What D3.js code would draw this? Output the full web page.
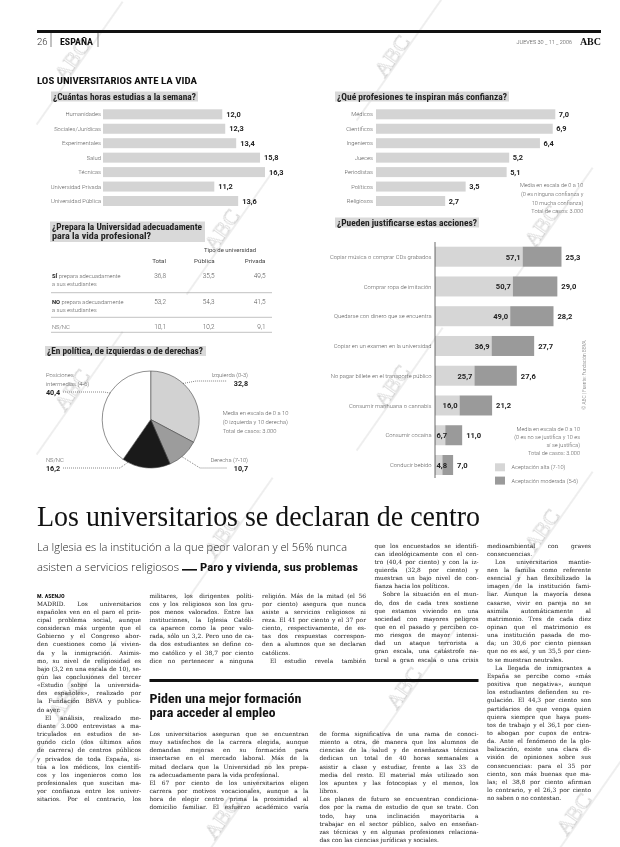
<!DOCTYPE html>
<html><head><meta charset="utf-8">
<script src="https://cdn.jsdelivr.net/npm/d3@7"></script>
<style>body{margin:0;background:#fff}svg{display:block}</style>
</head><body><svg id="c" width="620" height="847"></svg>
<script>
// ---------- DATA ----------
const horasCats = ["Humanidades","Sociales/Jurídicas","Experimentales","Salud","Técnicas","Universidad Privada","Universidad Pública"];
const horasVals = [12.0,12.3,13.4,15.8,16.3,11.2,13.6];
const confCats = ["Médicos","Científicos","Ingenieros","Jueces","Periodistas","Políticos","Religiosos"];
const confVals = [7.0,6.9,6.4,5.2,5.1,3.5,2.7];
const tablaCols = ["Total","Pública","Privada"];
const tablaRows = [["SÍ"," prepara adecuadamente","a sus estudiantes"],["NO"," prepara adecuadamente","a sus estudiantes"],["","NS/NC",""]];
const tablaVals = [[36.8,35.5,49.5],[53.2,54.3,41.5],[10.1,10.2,9.1]];
const pieCats = ["Izquierda (0-3)","Derecha (7-10)","NS/NC","Posiciones intermedias (4-6)"];
const pieVals = [32.8,10.7,16.2,40.4];
const justCats = ["Copiar música o comprar CDs grabados","Comprar ropa de imitación","Quedarse con dinero que se encuentra","Copiar en un examen en la universidad","No pagar billete en el transporte público","Consumir marihuana o cannabis","Consumir cocaína","Conducir bebido"];
const justAlta = [57.1,50.7,49.0,36.9,25.7,16.0,6.7,4.8];
const justModerada = [25.3,29.0,28.2,27.7,27.6,21.2,11.0,7.0];
const justSeries = ["Aceptación alta (7-10)","Aceptación moderada (5-6)"];

// ---------- TEXTS ----------
const col1 = [["M. ASENJO","byline"],["MADRID. Los universitarios"],["españoles ven en el paro el prin-"],["cipal problema social, aunque"],["consideran más urgente que el"],["Gobierno y el Congreso abor-"],["den cuestiones como la vivien-"],["da y la inmigración. Asimis-"],["mo, su nivel de religiosidad es"],["bajo (3,2 en una escala de 10), se-"],["gún las conclusiones del tercer"],["«Estudio sobre la universida-"],["des españoles», realizado por"],["la Fundación BBVA y publica-"],["do ayer.","last"],["El análisis, realizado me-","ind"],["diante 3.000 entrevistas a ma-"],["triculados en estudios de se-"],["gundo ciclo (dos últimos años"],["de carrera) de centros públicos"],["y privados de toda España, si-"],["túa a los médicos, los científi-"],["cos y los ingenieros como los"],["profesionales que suscitan ma-"],["yor confianza entre los univer-"],["sitarios. Por el contrario, los"]];
const col2 = [["militares, los dirigentes políti-"],["cos y los religiosos son los gru-"],["pos menos valorados. Entre las"],["instituciones, la Iglesia Católi-"],["ca aparece como la peor valo-"],["rada, sólo un 3,2. Pero uno de ca-"],["da dos estudiantes se define co-"],["mo católico y el 38,7 por ciento"],["dice no pertenecer a ninguna"]];
const col3 = [["religión. Más de la mitad (el 56"],["por ciento) asegura que nunca"],["asiste a servicios religiosos ni"],["reza. El 41 por ciento y el 37 por"],["ciento, respectivamente, de es-"],["tas dos respuestas correspon-"],["den a alumnos que se declaran"],["católicos.","last"],["El estudio revela también","ind"]];
const col4 = [["que los encuestados se identifi-"],["can ideológicamente con el cen-"],["tro (40,4 por ciento) y con la iz-"],["quierda (32,8 por ciento) y"],["muestran un bajo nivel de con-"],["fianza hacia los políticos.","last"],["Sobre la situación en el mun-","ind"],["do, dos de cada tres sostiene"],["que estamos viviendo en una"],["sociedad con mayores peligros"],["que en el pasado y perciben co-"],["mo riesgos de mayor intensi-"],["dad un ataque terrorista a"],["gran escala, una catástrofe na-"],["tural a gran escala o una crisis"]];
const col5 = [["medioambiental con graves"],["consecuencias.","last"],["Los universitarios mantie-","ind"],["nen la familia como referente"],["esencial y han flexibilizado la"],["imagen de la institución fami-"],["liar. Aunque la mayoría desea"],["casarse, vivir en pareja no se"],["asimila automáticamente al"],["matrimonio. Tres de cada diez"],["opinan que el matrimonio es"],["una institución pasada de mo-"],["da; un 30,6 por ciento piensan"],["que no es así, y un 35,5 por cien-"],["to se muestran neutrales.","last"],["La llegada de inmigrantes a","ind"],["España se percibe como «más"],["positiva que negativa», aunque"],["los estudiantes defienden su re-"],["gulación. El 44,3 por ciento son"],["partidarios de que venga quien"],["quiera siempre que haya pues-"],["tos de trabajo y el 36,1 por cien-"],["to abogan por cupos de entra-"],["da. Ante el fenómeno de la glo-"],["balización, existe una clara di-"],["visión de opiniones sobre sus"],["consecuencias: para el 35 por"],["ciento, son más buenas que ma-"],["las; el 38,8 por ciento afirman"],["lo contrario, y el 26,3 por ciento"],["no saben o no contestan.","last"]];
const boxA = [["Los universitarios aseguran que se encuentran"],["muy satisfechos de la carrera elegida, aunque"],["demandan mejoras en su formación para"],["insertarse en el mercado laboral. Más de la"],["mitad declara que la Universidad no les prepa-"],["ra adecuadamente para la vida profesional.","last"],["El 67 por ciento de los universitarios eligen"],["carrera por motivos vocacionales, aunque a la"],["hora de elegir centro prima la proximidad al"],["domicilio familiar. El esfuerzo académico varía"]];
const boxB = [["de forma significativa de una rama de conoci-"],["miento a otra, de manera que los alumnos de"],["ciencias de la salud y de enseñanzas técnicas"],["dedican un total de 40 horas semanales a"],["asistir a clase y estudiar, frente a las 33 de"],["media del resto. El material más utilizado son"],["los apuntes y las fotocopias y el menos, los"],["libros.","last"],["Los planes de futuro se encuentran condiciona-"],["dos por la rama de estudio de que se trate. Con"],["todo, hay una inclinación mayoritaria a"],["trabajar en el sector público, salvo en enseñan-"],["zas técnicas y en algunas profesiones relaciona-"],["das con las ciencias jurídicas y sociales.","last"]];

// ---------- SETUP ----------
const svg = d3.select("#c");
svg.append("rect").attr("width",620).attr("height",847).attr("fill","#fff");
const COND = "'Roboto Condensed','DejaVu Sans Condensed','Liberation Sans Narrow',Roboto,sans-serif";
const SANS = "Roboto,'Open Sans','DejaVu Sans',sans-serif";
const SERIF = "'Liberation Serif','DejaVu Serif',serif";
const BODY = "'DejaVu Serif','Liberation Serif',serif";
const fmt = v => d3.format(".1f")(v).replace(".", ",");
const LBL = "#5a5a5a";

function T(g, x, y, s, o={}) {
  const t = g.append("text").attr("x",x).attr("y",y).text(s)
    .attr("font-family", o.ff||SANS).attr("font-size", o.fs||6)
    .attr("font-weight", o.fw||400).attr("fill", o.fill||LBL)
    .attr("text-anchor", o.a||"start");
  if (o.tl) t.attr("textLength", o.tl).attr("lengthAdjust", o.la||"spacingAndGlyphs");
  return t;
}
function titleBox(g, lines, x, y, w, h, lens, base, lh) {
  g.append("rect").attr("x",x).attr("y",y).attr("width",w).attr("height",h).attr("fill","#d9d9d9");
  lines.forEach((l,i)=>T(g, x+2, base+i*lh, l, {ff:COND, fw:700, fs:8.2, fill:"#222", tl:lens[i]}));
}

// watermarks (decorative scan overlay)
const wmPos = [[78,62],[398,58],[228,232],[548,228],[78,392],[398,388],[228,538],[548,532],[72,700],[410,690],[228,820],[580,816]];
const wm = svg.append("g").attr("opacity",0.45);
wmPos.forEach(([x,y])=>{
  const g = wm.append("g").attr("transform",`translate(${x},${y}) rotate(-55)`);
  g.append("line").attr("x1",-75).attr("x2",75).attr("y1",2).attr("y2",2).attr("stroke","#888").attr("stroke-width",0.6);
  g.append("text").attr("x",-2).attr("y",1).attr("text-anchor","middle").attr("font-family",SERIF)
    .attr("font-size",22).attr("fill","none").attr("stroke","#888").attr("stroke-width",0.6).text("ABC");
});

// ---------- HEADER ----------
svg.append("rect").attr("x",37).attr("y",30).attr("width",564).attr("height",3).attr("fill","#111");
T(svg, 37, 44.5, "26", {fs:9.5, fw:300, fill:"#333"});
svg.append("line").attr("x1",51).attr("x2",51).attr("y1",33).attr("y2",47).attr("stroke","#333").attr("stroke-width",0.6);
T(svg, 60, 44.5, "ESPAÑA", {ff:COND, fs:9, fw:700, fill:"#111", tl:33});
svg.append("line").attr("x1",98).attr("x2",98).attr("y1",33).attr("y2",47).attr("stroke","#333").attr("stroke-width",0.6);
T(svg, 572, 44, "JUEVES 30 _ 11 _ 2006", {fs:5.5, fw:300, fill:"#444", a:"end"});
T(svg, 601, 44.5, "ABC", {ff:SERIF, fs:10, fw:700, fill:"#111", a:"end"});

T(svg, 37, 83.5, "LOS UNIVERSITARIOS ANTE LA VIDA", {ff:COND, fs:9.5, fw:700, fill:"#111", tl:160});

// ---------- CHART 1: horas ----------
const g1 = svg.append("g");
titleBox(g1, ["¿Cuántas horas estudias a la semana?"], 51, 91.5, 147, 10, [143], 99.5, 0);
const yH = d3.scalePoint().domain(horasCats).range([114.3, 201]);
const xH = d3.scaleLinear().domain([0, 16.3]).range([103, 265]);
g1.selectAll("rect.b").data(horasCats).join("rect").attr("class","b")
  .attr("x", xH(0)).attr("y", d=>yH(d)-5).attr("height",10)
  .attr("width",(d,i)=>xH(horasVals[i])-xH(0)).attr("fill","#d4d4d4");
horasCats.forEach((c,i)=>{
  T(g1, xH(0)-2, yH(c)+2.1, c, {fs:5.8, fw:300, a:"end"});
  T(g1, xH(horasVals[i])+4, yH(c)+2.6, fmt(horasVals[i]), {fs:7.4, fw:700, fill:"#222"});
});

// ---------- TABLE ----------
const g2 = svg.append("g");
titleBox(g2, ["¿Prepara la Universidad adecuadamente","para la vida profesional?"], 50, 221.5, 155, 20.5, [150,99], 230.2, 9);
T(g2, 230, 251.5, "Tipo de universidad", {fs:6, fw:400, fill:"#444", a:"middle"});
const colX = [166, 214.5, 265.5];
tablaCols.forEach((c,j)=>T(g2, colX[j], 263, c, {fs:6.2, fw:400, fill:"#444", a:"end"}));
const rowY = [278.2, 304, 328.8];
const ruleY = [292.7, 317.3, 332.3];
tablaRows.forEach((r,i)=>{
  const t = g2.append("text").attr("x",52).attr("y",rowY[i]).attr("font-family",SANS).attr("font-size",5.8).attr("fill",LBL).attr("font-weight",300);
  if (r[0]) t.append("tspan").attr("font-weight",700).attr("fill","#222").text(r[0]);
  t.append("tspan").text(r[1]);
  if (r[2]) T(g2, 52, rowY[i]+7.6, r[2], {fs:5.8, fw:300});
  tablaVals[i].forEach((v,j)=>T(g2, colX[j], rowY[i], fmt(v), {fs:6.4, fw:300, fill:"#555", a:"end"}));
  g2.append("line").attr("x1",51).attr("x2",272).attr("y1",ruleY[i]).attr("y2",ruleY[i]).attr("stroke","#999").attr("stroke-width",0.6);
});

// ---------- PIE ----------
const g3 = svg.append("g");
titleBox(g3, ["¿En política, de izquierdas o de derechas?"], 45, 346, 161, 10, [156], 354, 0);
const cx = 150.7, cy = 419.5, R = 48.5;
const pieCol = ["#d2d2d2","#9c9c9c","#1a1a1a","#ffffff"];
const arcs = d3.pie().sort(null).value(d=>d)(pieVals);
const arcG = d3.arc().innerRadius(0).outerRadius(R);
const pg = g3.append("g").attr("transform",`translate(${cx},${cy})`);
pg.selectAll("path").data(arcs).join("path").attr("d",arcG)
  .attr("fill",(d,i)=>pieCol[i]).attr("stroke","#444").attr("stroke-width",0.6);
const onC = a => [cx + R*Math.sin(a*Math.PI/180), cy - R*Math.cos(a*Math.PI/180)];
const dots = {stroke:"#444","stroke-width":0.8,"stroke-dasharray":"0.8,1.2",fill:"none"};
function leader(pts){ const p=g3.append("path").attr("d",d3.line()(pts)); Object.entries(dots).forEach(([k,v])=>p.attr(k,v)); }
leader([onC(42), [196,381], [227,381]]);
leader([[63,392],[104,392], onC(303)]);
leader([[63,468],[120,468], onC(208)]);
leader([onC(140), [200,468], [227,468]]);
T(g3, 248, 376.5, pieCats[0], {fs:5.8, fw:300, a:"end"});
T(g3, 248, 386, fmt(pieVals[0]), {fs:7.2, fw:700, fill:"#222", a:"end"});
T(g3, 248, 461.5, pieCats[1], {fs:5.8, fw:300, a:"end"});
T(g3, 248, 471, fmt(pieVals[1]), {fs:7.2, fw:700, fill:"#222", a:"end"});
T(g3, 46, 461.5, pieCats[2], {fs:5.8, fw:300});
T(g3, 46, 471, fmt(pieVals[2]), {fs:7.2, fw:700, fill:"#222"});
T(g3, 46, 376.5, "Posiciones", {fs:5.8, fw:300});
T(g3, 46, 385.5, "intermedias (4-6)", {fs:5.8, fw:300});
T(g3, 46, 395, fmt(pieVals[3]), {fs:7.2, fw:700, fill:"#222"});
["Media en escala de 0 a 10","(0 izquierda y 10 derecha)","Total de casos: 3.000"].forEach((s,i)=>T(g3, 222.7, 414.7+i*9, s, {fs:5.8, fw:300}));

// ---------- CHART 4: confianza ----------
const g4 = svg.append("g");
titleBox(g4, ["¿Qué profesiones te inspiran más confianza?"], 335, 91.5, 174, 10, [170], 99.5, 0);
const yC = d3.scalePoint().domain(confCats).range([114.3, 201]);
const xC = d3.scaleLinear().domain([0, 7]).range([376, 555.3]);
g4.selectAll("rect.b").data(confCats).join("rect").attr("class","b")
  .attr("x", xC(0)).attr("y", d=>yC(d)-5).attr("height",10)
  .attr("width",(d,i)=>xC(confVals[i])-xC(0)).attr("fill","#d4d4d4");
confCats.forEach((c,i)=>{
  T(g4, xC(0)-3, yC(c)+2.1, c, {fs:5.8, fw:300, a:"end"});
  T(g4, xC(confVals[i])+3.5, yC(c)+2.6, fmt(confVals[i]), {fs:7.4, fw:700, fill:"#222"});
});
["Media en escala de 0 a 10","(0 es ninguna confianza y","10 mucha confianza)","Total de casos: 3.000"].forEach((s,i)=>T(g4, 583.3, 187+i*8.8, s, {fs:5.6, fw:300, a:"end"}));

// ---------- CHART 5: justificarse ----------
const g5 = svg.append("g");
titleBox(g5, ["¿Pueden justificarse estas acciones?"], 335, 217.5, 144, 10, [140], 225.5, 0);
const yJ = d3.scalePoint().domain(justCats).range([256.7, 465]);
const xJ = d3.scaleLinear().domain([0, 100]).range([435, 588.5]);
const jCol = ["#d6d6d6","#9a9a9a"];
g5.selectAll("rect.a").data(justCats).join("rect").attr("class","a")
  .attr("x", xJ(0)).attr("y", d=>yJ(d)-10).attr("height",20)
  .attr("width",(d,i)=>xJ(justAlta[i])-xJ(0)).attr("fill",jCol[0]);
g5.selectAll("rect.m").data(justCats).join("rect").attr("class","m")
  .attr("x",(d,i)=>xJ(justAlta[i])).attr("y", d=>yJ(d)-10).attr("height",20)
  .attr("width",(d,i)=>xJ(justAlta[i]+justModerada[i])-xJ(justAlta[i])).attr("fill",jCol[1]);
g5.append("line").attr("x1",xJ(0)).attr("x2",xJ(0)).attr("y1",242).attr("y2",478).attr("stroke","#444").attr("stroke-width",0.8);
justCats.forEach((c,i)=>{
  T(g5, 431.5, yJ(c)+2.1, c, {fs:5.8, fw:300, a:"end"});
  const v = T(g5, xJ(justAlta[i])-2, yJ(c)+2.8, fmt(justAlta[i]), {fs:7.6, fw:700, fill:"#222", a:"end"});
  const wv = v.node().getComputedTextLength();
  v.attr("x", Math.max(xJ(justAlta[i])-2, xJ(0)+1.5+wv));
  T(g5, xJ(justAlta[i]+justModerada[i])+4, yJ(c)+2.8, fmt(justModerada[i]), {fs:7.6, fw:700, fill:"#222"});
});
["Media en escala de 0 a 10","(0 es no se justifica y 10 es","sí se justifica)","Total de casos: 3.000"].forEach((s,i)=>T(g5, 580, 431+i*7.9, s, {fs:5.6, fw:300, a:"end"}));
justSeries.forEach((s,i)=>{
  g5.append("rect").attr("x",495).attr("y",463.3+i*13.3).attr("width",10).attr("height",8).attr("fill",jCol[i]);
  T(g5, 511.5, 469.4+i*13.3, s, {fs:5.6, fw:300});
});
T(g5, 0, 0, "© ABC | Fuente: Fundación BBVA", {fs:4.8, fw:300, fill:"#777", a:"middle"})
  .attr("transform","translate(585.5,375) rotate(-90)");

// ---------- ARTICLE ----------
const ga = svg.append("g");
T(ga, 37, 526, "Los universitarios se declaran de centro", {ff:SERIF, fs:29, fw:400, fill:"#111", tl:443});
const OS = "'Open Sans',"+SANS;
T(ga, 37, 551, "La Iglesia es la institución a la que peor valoran y el 56% nunca", {ff:OS, fs:10.8, fw:300, fill:"#222", tl:310});
T(ga, 37, 570.5, "asisten a servicios religiosos", {ff:OS, fs:10.8, fw:300, fill:"#222", tl:142});
ga.append("rect").attr("x",182).attr("y",569).attr("width",15).attr("height",1.6).attr("fill","#111");
T(ga, 200, 570.5, "Paro y vivienda, sus problemas", {ff:COND, fs:10.8, fw:700, fill:"#111", tl:158});

function column(g, lines, x, y0, w, lh) {
  let y = y0;
  lines.forEach(([s, f])=>{
    if (f === "byline") { T(g, x, y, s, {ff:COND, fs:6, fw:700, fill:"#111"}); y += lh; return; }
    const ind = f === "ind" ? 8 : 0;
    const t = T(g, x+ind, y, s, {ff:BODY, fs:5.9, fw:400, fill:"#1a1a1a"});
    const n = t.node().getComputedTextLength();
    const W = w - ind;
    if (n > W) t.attr("textLength", W).attr("lengthAdjust","spacingAndGlyphs");
    else if (f !== "last") {
      const sp = (s.match(/ /g)||[]).length;
      if (sp === 0) t.attr("textLength", W).attr("lengthAdjust","spacing");
      else t.attr("word-spacing", ((W - n)/sp).toFixed(2));
    }
    y += lh;
  });
}
const LH = 8.15;
column(ga, col1, 37, 597.5, 104, LH);
column(ga, col2, 149.5, 597.5, 104, LH);
column(ga, col3, 262, 597.5, 104, LH);
column(ga, col4, 374.5, 547.5, 104, LH);
column(ga, col5, 487, 547.5, 104, LH);

ga.append("rect").attr("x",149.5).attr("y",679).attr("width",329).attr("height",3).attr("fill","#111");
T(ga, 149.5, 703, "Piden una mejor formación", {ff:COND, fs:13, fw:700, fill:"#111", tl:152});
T(ga, 149.5, 717, "para acceder al empleo", {ff:COND, fs:13, fw:700, fill:"#111", tl:126});
column(ga, boxA, 149.5, 736, 159, LH);
column(ga, boxB, 319.5, 736, 159, LH);
</script></body></html>
